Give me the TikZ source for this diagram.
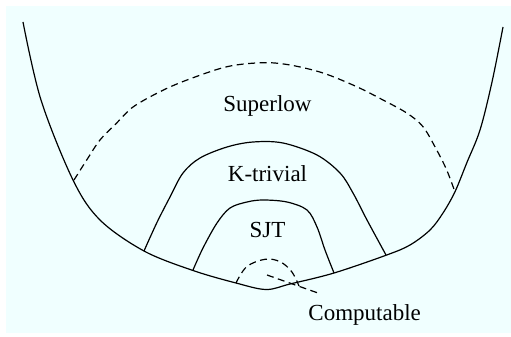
\documentclass[tikz,border=0pt]{standalone}
\usepackage{fontspec}
\setmainfont{Liberation Serif}
\newfontfamily\lblfont{Liberation Serif}
\definecolor{bgcyan}{HTML}{F0FFFF}
\begin{document}
\begin{tikzpicture}[x=1pt,y=-1pt,
  solidline/.style={line width=1.2pt,black,line join=round},
  dashline/.style={line width=1.2pt,black,dash pattern=on 7pt off 4.5pt},
  lbl/.style={anchor=base,inner sep=0pt,font=\lblfont\fontsize{23}{27}\selectfont}]
\useasboundingbox (0,0) rectangle (511,337);
\fill[bgcyan] (6,6) rectangle (511,333);
% outer curve
\draw[solidline] plot[smooth,tension=0.55] coordinates {(23,22) (41,100) (73,180) (100,220) (144,251) (193,270.5) (236,283) (266,289.5) (290,284) (334,273) (386.7,255) (410,245) (430,230) (443,213) (455,191.7) (466.7,163) (480,130) (492,82) (503,27)};
% superlow
\draw[dashline] plot[smooth,tension=0.55] coordinates {(74,180) (86.7,160) (100,140) (116.7,123) (133,107) (160,91.7) (187,80) (227,66.7) (263,62.7) (290,65) (323,73) (356.7,86.7) (383,100) (406.7,113) (423,126.7) (436.7,150) (446.7,170) (455,192)};
% K-trivial
\draw[solidline] plot[smooth,tension=0.55] coordinates {(144,251) (156.7,223) (170,197) (183,173) (200,158) (227,147) (253,142) (283,143) (317,155) (340,173) (353,193) (367,220) (386,255)};
% SJT
\draw[solidline] plot[smooth,tension=0.55] coordinates {(193,270) (203,248) (217,223) (230,208) (247,202) (263,200) (287,202) (307,210) (317,227) (325,250) (334,273)};
% computable bump
\draw[dashline] plot[smooth,tension=0.6] coordinates {(236,283) (246.7,266.7) (265,259.3) (280,261.7) (291.7,271.7) (299,286)};
\coordinate (la) at (267,275);
\coordinate (lb) at (318,293);
\draw[dashline] (la) -- (lb);
\node[lbl] (superlow) at (267.5,111.7) {Superlow};
\node[lbl] (ktrivial) at (267.5,181) {K-trivial};
\node[lbl] (sjt) at (267.5,237.3) {SJT};
\node[lbl] (computable) at (364.7,320) {Computable};
\end{tikzpicture}
\end{document}
